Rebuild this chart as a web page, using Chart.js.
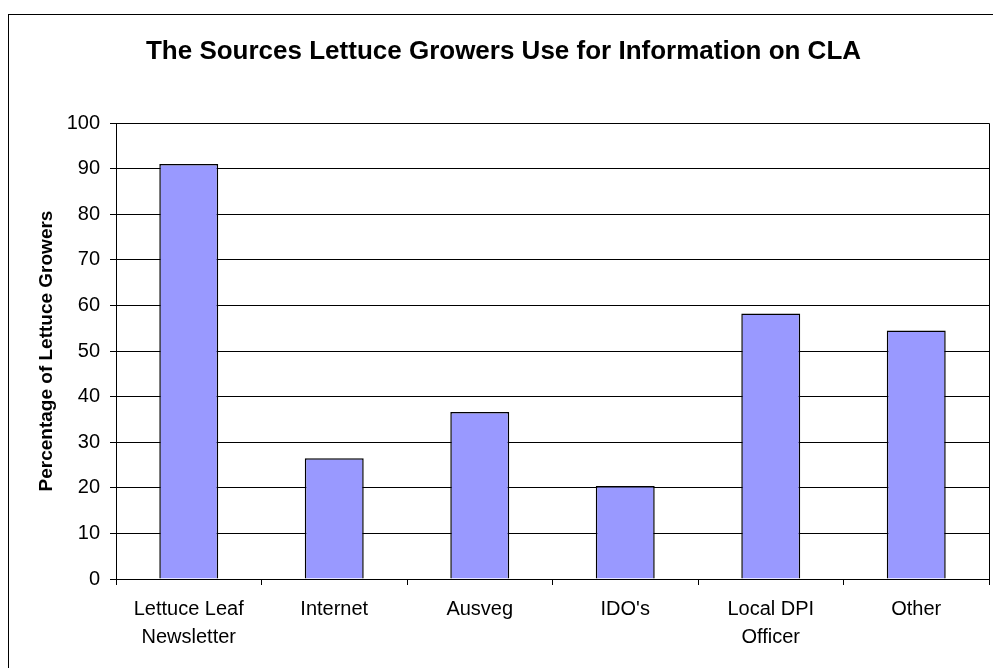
<!DOCTYPE html>
<html>
<head>
<meta charset="utf-8">
<title>The Sources Lettuce Growers Use for Information on CLA</title>
<script src="https://cdn.jsdelivr.net/npm/chart.js@4.4.1/dist/chart.umd.min.js"></script>
<style>
  html, body { margin: 0; padding: 0; background: #fff; overflow: hidden; }
  #wrap { position: relative; width: 993px; height: 668px; }
  /* frame around the chart, running off the right and bottom edges */
  #frame { position: absolute; left: 8px; top: 14px; width: 1200px; height: 900px;
           border-left: 1px solid #000; border-top: 1px solid #000; }
  canvas { position: absolute; left: 0; top: 0; }
</style>
</head>
<body>
<div id="wrap">
  <div id="frame"></div>
  <canvas id="chart" width="993" height="668"></canvas>
</div>
<script>
// Survey results: share of lettuce growers using each source
const categories = [
  ["Lettuce Leaf", "Newsletter"],
  "Internet",
  "Ausveg",
  "IDO's",
  ["Local DPI", "Officer"],
  "Other"
];
const percentages = [91, 26.5, 36.6, 20.4, 58.2, 54.5];
const yTicks = [0, 10, 20, 30, 40, 50, 60, 70, 80, 90, 100];

const chartTitle = "The Sources Lettuce Growers Use for Information on CLA";
const yAxisTitle = "Percentage of Lettuce Growers";

const FONT = "Arial, 'Liberation Sans', Helvetica, sans-serif";

// outline of the plot area (top, right) drawn after the grid
const plotBorder = {
  id: 'plotBorder',
  afterDraw(chart) {
    const { ctx, chartArea: a } = chart;
    ctx.save();
    ctx.strokeStyle = '#000';
    ctx.lineWidth = 1;
    ctx.beginPath();
    ctx.moveTo(Math.round(a.left) + 0.5, Math.round(a.top) + 0.5);
    ctx.lineTo(Math.round(a.right) + 0.5, Math.round(a.top) + 0.5);
    ctx.lineTo(Math.round(a.right) + 0.5, Math.round(a.bottom) + 0.5);
    ctx.stroke();
    ctx.restore();
  }
};

new Chart(document.getElementById('chart'), {
  type: 'bar',
  data: {
    labels: categories,
    datasets: [{
      data: percentages,
      backgroundColor: '#9999FF',
      borderColor: '#000',
      borderWidth: 1.5,
      borderSkipped: 'bottom',
      categoryPercentage: 1.0,
      barPercentage: 0.405
    }]
  },
  plugins: [plotBorder],
  options: {
    responsive: false,
    animation: false,
    devicePixelRatio: 1,
    layout: { padding: { left: 18, right: 4, top: 0, bottom: 0 } },
    plugins: {
      legend: { display: false },
      tooltip: { enabled: false },
      title: {
        display: true,
        text: chartTitle,
        color: '#000',
        font: { family: FONT, size: 26, weight: 'bold', lineHeight: 1.2 },
        padding: { top: 36, bottom: 55.8 }
      }
    },
    scales: {
      x: {
        afterFit(scale) { scale.height = 89; },
        grid: {
          display: true,
          offset: true,
          drawOnChartArea: false,
          drawTicks: true,
          tickLength: 6,
          color: '#000',
          lineWidth: 1
        },
        border: { display: true, color: '#000', width: 1 },
        ticks: {
          color: '#000',
          padding: 11,
          maxRotation: 0,
          autoSkip: false,
          font: { family: FONT, size: 20, lineHeight: 1.37 }
        }
      },
      y: {
        min: 0,
        max: 100,
        afterFit(scale) { scale.width = 98; },
        afterBuildTicks(scale) { scale.ticks = yTicks.map(v => ({ value: v })); },
        grid: {
          color: '#000',
          lineWidth: 1,
          drawTicks: true,
          tickLength: 6
        },
        border: { display: true, color: '#000', width: 1 },
        ticks: {
          color: '#000',
          padding: 10,
          font: { family: FONT, size: 20 }
        },
        title: {
          display: true,
          text: yAxisTitle,
          color: '#000',
          font: { family: FONT, size: 19, weight: 'bold', lineHeight: 1.2 },
          padding: { top: 17, bottom: 0 }
        }
      }
    }
  }
});
</script>
</body>
</html>
